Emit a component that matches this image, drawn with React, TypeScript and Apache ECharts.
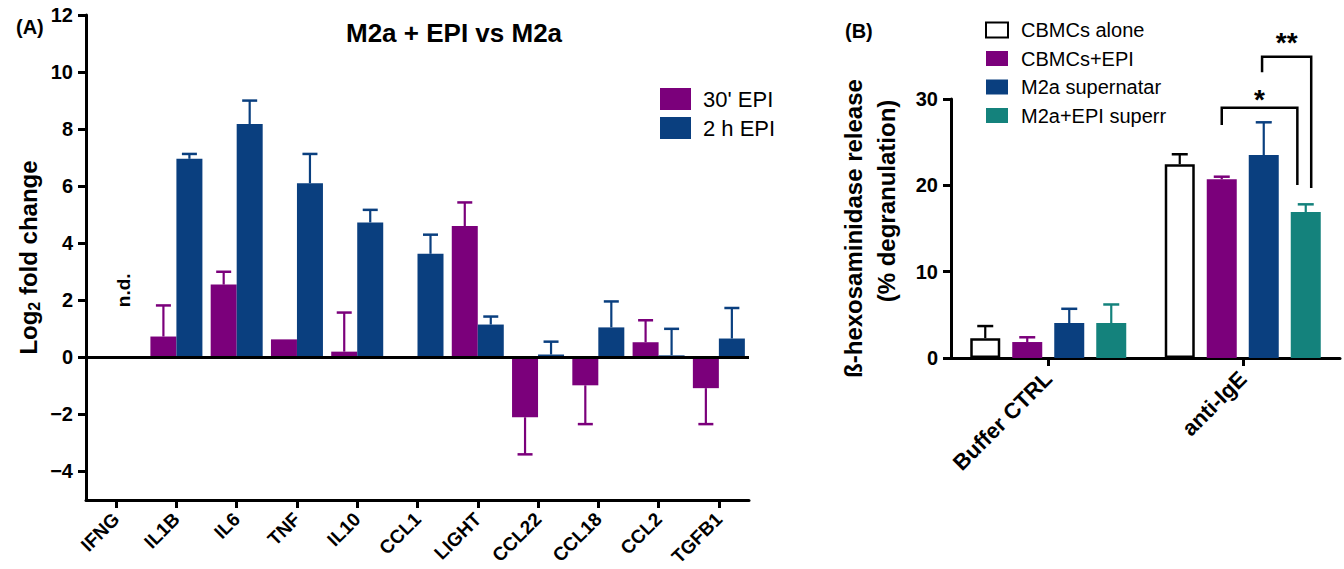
import React, { useEffect, useRef } from "react";
import * as echarts from "echarts";

// ---------- Panel A data ----------
const genes = ["IFNG", "IL1B", "IL6", "TNF", "IL10", "CCL1", "LIGHT", "CCL22", "CCL18", "CCL2", "TGFB1"];
const epi30 = [null, 0.73, 2.55, 0.63, 0.2, null, 4.6, -2.1, -0.98, 0.53, -1.08];
const epi30Err = [null, 1.82, 3.0, null, 1.57, null, 5.43, -3.4, -2.34, 1.3, -2.34];
const epi2h = [null, 6.96, 8.18, 6.1, 4.73, 3.63, 1.15, 0.1, 1.05, 0.07, 0.66];
const epi2hErr = [null, 7.13, 9.0, 7.13, 5.17, 4.3, 1.43, 0.55, 1.96, 1.0, 1.73];
const yTicksA = [-4, -2, 0, 2, 4, 6, 8, 10, 12];
const ndNotes = [["IFNG", 2.35, "n.d."]];

// ---------- Panel B data ----------
const conditions = ["Buffer CTRL", "anti-IgE"];
const cbmcAlone = [2.3, 22.45];
const cbmcAloneErr = [3.7, 23.6];
const cbmcEpi = [1.85, 20.7];
const cbmcEpiErr = [2.4, 21.0];
const m2aSup = [4.05, 23.5];
const m2aSupErr = [5.7, 27.3];
const m2aEpiSup = [4.05, 16.9];
const m2aEpiSupErr = [6.2, 17.8];
// [category, left bar slot, right bar slot, top, left leg end, right leg end, label y, label]
const brackets = [
  [1, 1.0, 2.8, 29.0, 27.0, 20.05, 30.0, "*"],
  [1, 1.96, 3.13, 34.9, 33.1, 19.7, 36.6, "**"],
];

const PURPLE = "#7B007B";
const BLUE = "#0A3F7F";
const TEAL = "#14827C";
const FONT = "'Liberation Sans', Arial, Helvetica, sans-serif";

const BAR_A = 26;
const BAR_B = 30;
const GAP_B = 12;

function errSeries(name: string, axis: number, vals: any[], errs: any[], offset: number, color: string, capHalf: number) {
  const data = vals
    .map((v, i) => (v == null || errs[i] == null ? null : [i, v, errs[i]]))
    .filter((d) => d !== null);
  return {
    type: "custom",
    name,
    xAxisIndex: axis,
    yAxisIndex: axis,
    silent: true,
    clip: false,
    z: 1,
    data,
    renderItem: (params: any, api: any) => {
      const c = api.value(0);
      const p0 = api.coord([c, api.value(1)]);
      const p1 = api.coord([c, api.value(2)]);
      const x = p0[0] + offset;
      return {
        type: "group",
        children: [
          { type: "line", shape: { x1: x, y1: p0[1], x2: x, y2: p1[1] }, style: { stroke: color, lineWidth: 2.2 } },
          { type: "line", shape: { x1: x - capHalf, y1: p1[1], x2: x + capHalf, y2: p1[1] }, style: { stroke: color, lineWidth: 2.5 } },
        ],
      };
    },
  };
}

const toBar = (arr: any[]) => arr.map((v) => (v == null ? "-" : v));

export default function App() {
  const ref = useRef<HTMLDivElement>(null);
  useEffect(() => {
    if (!ref.current) return;
    const chart = echarts.init(ref.current, null, { renderer: "svg" });
    const axisLine = { show: true, onZero: false, lineStyle: { color: "#000", width: 3 } };
    const axisTick = { show: true, length: 8, lineStyle: { color: "#000", width: 3 } };
    const slot = BAR_B + GAP_B;
    const option: any = {
      animation: false,
      backgroundColor: "#fff",
      textStyle: { fontFamily: FONT },
      title: [
        { text: "M2a + EPI vs M2a", left: 341, top: 15, textStyle: { fontSize: 26, fontWeight: "bold", color: "#000", fontFamily: FONT } },
        { text: "(A)", left: 11, top: 12, textStyle: { fontSize: 20, fontWeight: "bold", color: "#000", fontFamily: FONT } },
        { text: "(B)", left: 840, top: 16, textStyle: { fontSize: 20, fontWeight: "bold", color: "#000", fontFamily: FONT } },
      ],
      legend: [
        {
          data: ["30' EPI", "2 h EPI"],
          orient: "vertical",
          left: 660,
          top: 88,
          padding: 0,
          itemWidth: 31,
          itemHeight: 22,
          itemGap: 7,
          icon: "rect",
          selectedMode: false,
          textStyle: { fontSize: 22, color: "#000", fontFamily: FONT, padding: [0, 0, 0, 7] },
        },
        {
          data: ["CBMCs alone", "CBMCs+EPI", "M2a supernatar", "M2a+EPI superr"],
          orient: "vertical",
          left: 985,
          top: 20,
          padding: 0,
          itemWidth: 22,
          itemHeight: 15,
          itemGap: 8.5,
          icon: "rect",
          selectedMode: false,
          textStyle: { fontSize: 20, color: "#000", fontFamily: FONT, padding: [0, 0, 0, 8] },
        },
      ],
      grid: [
        { left: 86, top: 15, width: 663, height: 485 },
        { left: 951, top: 99, width: 389, height: 259 },
      ],
      xAxis: [
        {
          type: "category",
          gridIndex: 0,
          data: genes,
          boundaryGap: true,
          axisLine,
          axisTick: { ...axisTick, alignWithLabel: true },
          axisLabel: { interval: 0, rotate: 45, margin: 16, fontSize: 19, fontWeight: "bold", color: "#000", fontFamily: FONT },
          splitLine: { show: false },
        },
        {
          type: "category",
          gridIndex: 1,
          data: conditions,
          boundaryGap: true,
          axisLine,
          axisTick: { ...axisTick, alignWithLabel: true },
          axisLabel: { interval: 0, rotate: 45, margin: 17, fontSize: 22, fontWeight: "bold", color: "#000", fontFamily: FONT },
          splitLine: { show: false },
        },
      ],
      yAxis: [
        {
          type: "value",
          gridIndex: 0,
          min: -5,
          max: 12,
          axisLine,
          axisTick: { ...axisTick, customValues: yTicksA },
          axisLabel: { customValues: yTicksA, margin: 13, fontSize: 20, fontWeight: "bold", color: "#000", fontFamily: FONT, formatter: (v: number) => (v < 0 ? "\u2212" + Math.abs(v) : String(v)) },
          splitLine: { show: false },
          name: "{a|Log}{b|2}{a| fold change}",
          nameLocation: "middle",
          nameGap: 44,
          nameTextStyle: {
            color: "#000",
            rich: {
              a: { fontSize: 24, fontWeight: "bold", color: "#000", fontFamily: FONT, lineHeight: 28 },
              b: { fontSize: 16, fontWeight: "bold", color: "#000", fontFamily: FONT, lineHeight: 28, padding: [12, 0, 0, 0] },
            },
          },
        },
        {
          type: "value",
          gridIndex: 1,
          min: 0,
          max: 30,
          interval: 10,
          axisLine,
          axisTick,
          axisLabel: { margin: 13, fontSize: 20, fontWeight: "bold", color: "#000", fontFamily: FONT },
          splitLine: { show: false },
          name: "\u00DF-hexosaminidase release",
          nameLocation: "middle",
          nameGap: 86,
          nameTextStyle: { fontSize: 24, fontWeight: "bold", color: "#000", fontFamily: FONT },
        },
      ],
      graphic: [
        {
          type: "text",
          x: 886,
          y: 201,
          rotation: Math.PI / 2,
          style: { text: "(% degranulation)", fontSize: 24, fontWeight: "bold", fill: "#000", fontFamily: FONT, align: "center", verticalAlign: "middle" },
        },
      ],
      series: [
        {
          type: "bar",
          name: "30' EPI",
          xAxisIndex: 0,
          yAxisIndex: 0,
          data: toBar(epi30),
          barWidth: BAR_A,
          barGap: "0%",
          itemStyle: { color: PURPLE },
          z: 2,
          markLine: {
            silent: true,
            symbol: ["none", "none"],
            label: { show: false },
            lineStyle: { color: "#000", width: 3, type: "solid" },
            data: [{ yAxis: 0 }],
            z: 5,
          },
        },
        {
          type: "bar",
          name: "2 h EPI",
          xAxisIndex: 0,
          yAxisIndex: 0,
          data: toBar(epi2h),
          barWidth: BAR_A,
          barGap: "0%",
          itemStyle: { color: BLUE },
          z: 2,
        },
        errSeries("err30", 0, epi30, epi30Err, -BAR_A / 2, PURPLE, 7.5),
        errSeries("err2h", 0, epi2h, epi2hErr, BAR_A / 2, BLUE, 7.5),
        {
          type: "custom",
          name: "nd",
          xAxisIndex: 0,
          yAxisIndex: 0,
          silent: true,
          clip: false,
          data: ndNotes,
          renderItem: (params: any, api: any) => {
            const p = api.coord([api.value(0), api.value(1)]);
            return {
              type: "text",
              x: p[0] + 7,
              y: p[1],
              rotation: Math.PI / 2,
              style: { text: ndNotes[params.dataIndex][2], fontSize: 19, fontWeight: "bold", fill: "#000", fontFamily: FONT, align: "center", verticalAlign: "middle" },
            };
          },
        },
        // Panel B bars
        {
          type: "bar",
          name: "CBMCs alone",
          xAxisIndex: 1,
          yAxisIndex: 1,
          data: cbmcAlone,
          barWidth: BAR_B,
          barGap: (GAP_B / BAR_B) * 100 + "%",
          itemStyle: { color: "#fff", borderColor: "#000", borderWidth: 2.5 },
        },
        {
          type: "bar",
          name: "CBMCs+EPI",
          xAxisIndex: 1,
          yAxisIndex: 1,
          data: cbmcEpi,
          barWidth: BAR_B,
          barGap: (GAP_B / BAR_B) * 100 + "%",
          itemStyle: { color: PURPLE },
        },
        {
          type: "bar",
          name: "M2a supernatar",
          xAxisIndex: 1,
          yAxisIndex: 1,
          data: m2aSup,
          barWidth: BAR_B,
          barGap: (GAP_B / BAR_B) * 100 + "%",
          itemStyle: { color: BLUE },
        },
        {
          type: "bar",
          name: "M2a+EPI superr",
          xAxisIndex: 1,
          yAxisIndex: 1,
          data: m2aEpiSup,
          barWidth: BAR_B,
          barGap: (GAP_B / BAR_B) * 100 + "%",
          itemStyle: { color: TEAL },
        },
        errSeries("errB0", 1, cbmcAlone, cbmcAloneErr, -1.5 * slot, "#000", 8),
        errSeries("errB1", 1, cbmcEpi, cbmcEpiErr, -0.5 * slot, PURPLE, 8),
        errSeries("errB2", 1, m2aSup, m2aSupErr, 0.5 * slot, BLUE, 8),
        errSeries("errB3", 1, m2aEpiSup, m2aEpiSupErr, 1.5 * slot, TEAL, 8),
        {
          type: "custom",
          name: "brackets",
          xAxisIndex: 1,
          yAxisIndex: 1,
          silent: true,
          clip: false,
          data: brackets,
          renderItem: (params: any, api: any) => {
            const b = brackets[params.dataIndex];
            const c = b[0] as number;
            const base = api.coord([c, 0])[0];
            const xl = base + ((b[1] as number) - 1.5) * slot;
            const xr = base + ((b[2] as number) - 1.5) * slot;
            const yTop = api.coord([c, b[3]])[1];
            const yL = api.coord([c, b[4]])[1];
            const yR = api.coord([c, b[5]])[1];
            const yLab = api.coord([c, b[6]])[1];
            return {
              type: "group",
              children: [
                {
                  type: "polyline",
                  shape: { points: [[xl, yL], [xl, yTop], [xr, yTop], [xr, yR]] },
                  style: { stroke: "#000", lineWidth: 2.5, fill: null },
                },
                {
                  type: "text",
                  x: (xl + xr) / 2,
                  y: yLab,
                  style: { text: b[7], fontSize: 28, fontWeight: "bold", fill: "#000", fontFamily: FONT, align: "center", verticalAlign: "middle" },
                },
              ],
            };
          },
        },
      ],
    };
    chart.setOption(option);
    return () => chart.dispose();
  }, []);
  return <div ref={ref} style={{ position: "fixed", left: 0, top: 0, width: 1344, height: 569, background: "#fff" }} />;
}
